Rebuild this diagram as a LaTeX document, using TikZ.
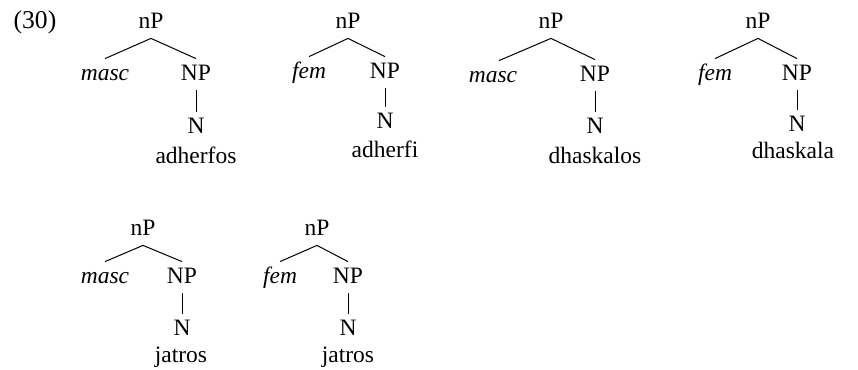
\documentclass[tikz,border=0pt]{standalone}
\usepackage{fontspec}
\setmainfont{Liberation Serif}
\begin{document}
\begin{tikzpicture}[x=0.5pt,y=-0.5pt,
  lab/.style={anchor=base,inner sep=2.5pt,text height=8pt,text depth=2.5pt,font=\fontsize{11.75}{14}\selectfont},
  feat/.style={lab,font=\fontsize{11.75}{14}\selectfont\itshape},
  word/.style={anchor=base,inner sep=0pt,font=\fontsize{11.75}{14}\selectfont},
  br/.style={line width=0.5pt}]
\useasboundingbox (0,0) rectangle (858,370);
\fill[white] (0,0) rectangle (858,370);
\node[word,font=\fontsize{12.8}{15}\selectfont] (ex) at (35,28) {(30)};
% tree 1
\node[lab] (t1np) at (151,28) {nP};
\node[feat] (t1f) at (105,80) {masc};
\node[lab] (t1NP) at (196,80) {NP};
\node[lab] (t1N) at (196,133) {N};
\node[word] (t1w) at (196,163) {adherfos};
\draw[br] (t1f.north) -- (t1np.south) -- (t1NP.north);
\draw[br] (t1NP.south) -- (t1N.north);
% tree 2
\node[lab] (t2np) at (348,28) {nP};
\node[feat] (t2f) at (309,78) {fem};
\node[lab] (t2NP) at (385,78) {NP};
\node[lab] (t2N) at (385,128) {N};
\node[word] (t2w) at (385,157) {adherfi};
\draw[br] (t2f.north) -- (t2np.south) -- (t2NP.north);
\draw[br] (t2NP.south) -- (t2N.north);
% tree 3
\node[lab] (t3np) at (551,28) {nP};
\node[feat] (t3f) at (493,82) {masc};
\node[lab] (t3NP) at (595,81) {NP};
\node[lab] (t3N) at (595,133) {N};
\node[word] (t3w) at (595,163) {dhaskalos};
\draw[br] ([xshift=3pt]t3f.north) -- (t3np.south) -- (t3NP.north);
\draw[br] (t3NP.south) -- (t3N.north);
% tree 4
\node[lab] (t4np) at (758,28) {nP};
\node[feat] (t4f) at (715,80) {fem};
\node[lab] (t4NP) at (797,80) {NP};
\node[lab] (t4N) at (797,131) {N};
\node[word] (t4w) at (793,158) {dhaskala};
\draw[br] (t4f.north) -- (t4np.south) -- (t4NP.north);
\draw[br] (t4NP.south) -- (t4N.north);
% tree 5
\node[lab] (t5np) at (143,235) {nP};
\node[feat] (t5f) at (105,283) {masc};
\node[lab] (t5NP) at (182,283) {NP};
\node[lab] (t5N) at (182,335) {N};
\node[word] (t5w) at (181,362) {jatros};
\draw[br] (t5f.north) -- (t5np.south) -- (t5NP.north);
\draw[br] (t5NP.south) -- (t5N.north);
% tree 6
\node[lab] (t6np) at (317,235) {nP};
\node[feat] (t6f) at (280,283) {fem};
\node[lab] (t6NP) at (348,283) {NP};
\node[lab] (t6N) at (348,335) {N};
\node[word] (t6w) at (348,362) {jatros};
\draw[br] (t6f.north) -- (t6np.south) -- (t6NP.north);
\draw[br] (t6NP.south) -- (t6N.north);
\end{tikzpicture}
\end{document}
